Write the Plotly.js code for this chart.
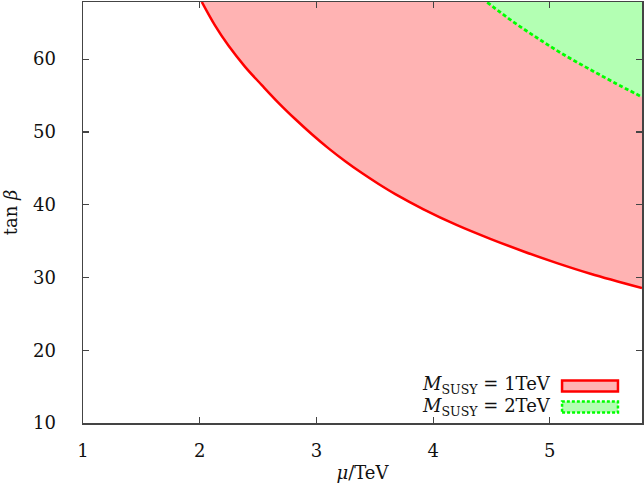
<!DOCTYPE html>
<html>
<head>
<meta charset="utf-8">
<script src="https://cdn.plot.ly/plotly-3.0.1.min.js"></script>
<style>html,body{margin:0;padding:0;background:#fff;}#chart{width:644px;height:486px;}</style>
</head>
<body>
<div id="chart"></div>
<script>
// Boundary of the excluded region for M_SUSY = 1 TeV
const mu1 = [2.018, 2.132, 2.246, 2.389, 2.532, 2.675, 2.818, 2.961, 3.104, 3.247, 3.390, 3.533, 3.676, 3.918, 4.205, 4.490, 4.776, 5.062, 5.348, 5.79];
const tb1 = [67.86, 64.60, 61.86, 58.94, 56.43, 54.00, 51.77, 49.68, 47.74, 45.97, 44.34, 42.84, 41.45, 39.37, 37.19, 35.31, 33.57, 31.97, 30.51, 28.54];
// Boundary of the excluded region for M_SUSY = 2 TeV
const mu2 = [4.464, 4.68, 4.893, 5.09, 5.32, 5.55, 5.79];
const tb2 = [67.8, 65.2, 62.9, 60.9, 58.8, 56.8, 54.8];
const labels = ['<i>M</i><sub>SUSY</sub> = 1TeV', '<i>M</i><sub>SUSY</sub> = 2TeV'];
const xTicks = [1, 2, 3, 4, 5];
const yTicks = [10, 20, 30, 40, 50, 60];
const xRange = [1, 5.79];
const yRange = [10, 67.85];

const fills = ['#ffb3b3', '#b3ffb3'];
const lines = ['#ff0000', '#00ff00'];

function region(mu, tb) {
  return {
    x: mu.concat([xRange[1], xRange[1], mu[0]]),
    y: tb.concat([tb[tb.length - 1], yRange[1] + 1, yRange[1] + 1])
  };
}
const r1 = region(mu1, tb1);
const r2 = region(mu2, tb2);

const font = {family: 'DejaVu Serif, serif', size: 18, color: '#111'};

const traces = [
  {x: r1.x, y: r1.y, mode: 'none', fill: 'toself', fillcolor: fills[0], showlegend: false, hoverinfo: 'skip'},
  {x: r2.x, y: r2.y, mode: 'none', fill: 'toself', fillcolor: fills[1], showlegend: false, hoverinfo: 'skip'},
  {x: mu1, y: tb1, mode: 'lines', line: {color: lines[0], width: 2.5, shape: 'spline', smoothing: 1}, showlegend: false},
  {x: mu2, y: tb2, mode: 'lines', line: {color: lines[1], width: 2.8, dash: '4px,2.5px', shape: 'spline', smoothing: 1}, showlegend: false}
];

const axisCommon = {
  showgrid: false, zeroline: false, showline: true, linecolor: '#444', linewidth: 1.5,
  mirror: 'ticks', ticks: 'inside', ticklen: 6, tickcolor: '#444', tickwidth: 1.2,
  tickfont: font
};

// legend keys (paper coords) drawn as rectangles beside text labels
const keyX = [0.857, 0.957];
const keyY = [[0.0747, 0.1008], [0.0249, 0.051]];

const layout = {
  width: 644, height: 486,
  margin: {l: 83, r: 2, t: 2, b: 63},
  paper_bgcolor: '#fff', plot_bgcolor: '#fff',
  font: font,
  showlegend: false,
  xaxis: Object.assign({}, axisCommon, {
    range: xRange, tickvals: xTicks, ticklabelstandoff: 11,
    title: {text: '<i>μ</i>/TeV', font: font, standoff: 6}
  }),
  yaxis: Object.assign({}, axisCommon, {
    range: yRange, tickvals: yTicks, ticklabelstandoff: 22,
    title: {text: 'tan <i>β</i>', font: font, standoff: 10}
  }),
  shapes: [0, 1].map(i => ({
    type: 'rect', xref: 'paper', yref: 'paper',
    x0: keyX[0], x1: keyX[1], y0: keyY[i][0], y1: keyY[i][1],
    fillcolor: fills[i], line: {color: lines[i], width: 2.5, dash: i ? '3px,2px' : 'solid'}
  })),
  annotations: labels.map((t, i) => ({
    text: t, xref: 'paper', yref: 'paper', x: 0.841, y: i ? 0.039 : 0.0913,
    xanchor: 'right', yanchor: 'middle', showarrow: false, font: font
  }))
};

Plotly.newPlot('chart', traces, layout, {displayModeBar: false, staticPlot: true});
</script>
</body>
</html>
